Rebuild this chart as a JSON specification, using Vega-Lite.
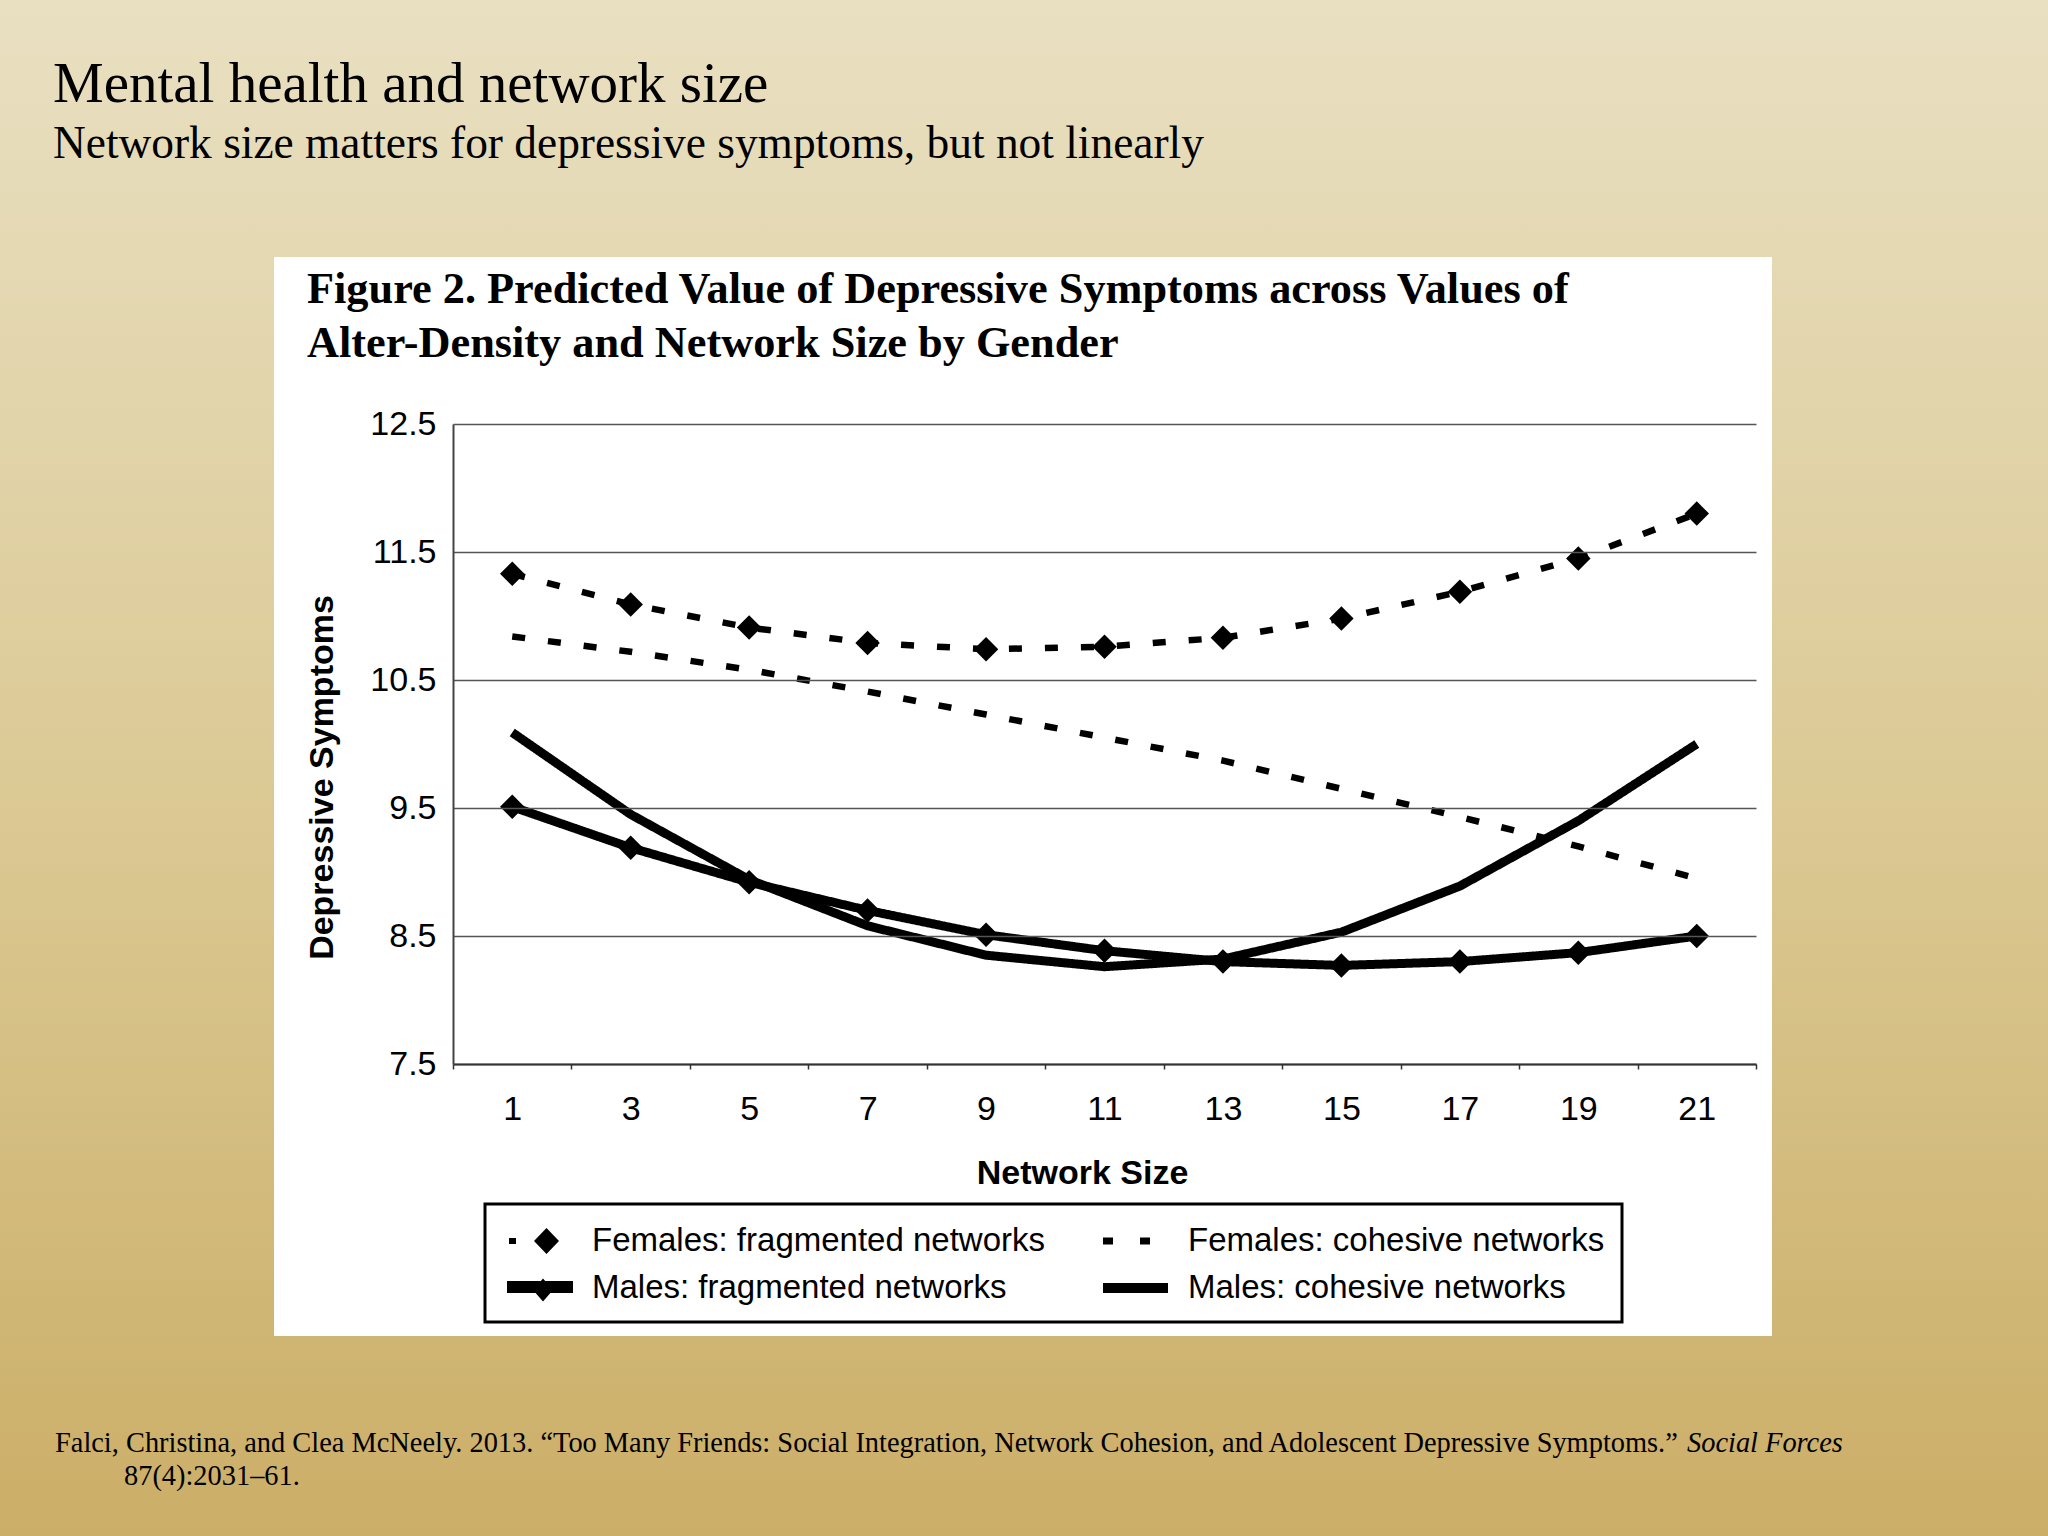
{
  "$schema": "https://vega.github.io/schema/vega-lite/v6.json",
  "autosize": {"type": "none"},
  "width": 1303,
  "height": 640,
  "padding": {"left": 453, "top": 424, "right": 292, "bottom": 472},
  "background": "#DCC894",
  "config": {"view": {"stroke": null}, "font": "Liberation Sans"},
  "datasets": {
    "predicted": [
      {"size": 1, "value": 11.33, "series": "Females: fragmented networks"},
      {"size": 3, "value": 11.09, "series": "Females: fragmented networks"},
      {"size": 5, "value": 10.91, "series": "Females: fragmented networks"},
      {"size": 7, "value": 10.79, "series": "Females: fragmented networks"},
      {"size": 9, "value": 10.74, "series": "Females: fragmented networks"},
      {"size": 11, "value": 10.76, "series": "Females: fragmented networks"},
      {"size": 13, "value": 10.83, "series": "Females: fragmented networks"},
      {"size": 15, "value": 10.98, "series": "Females: fragmented networks"},
      {"size": 17, "value": 11.19, "series": "Females: fragmented networks"},
      {"size": 19, "value": 11.45, "series": "Females: fragmented networks"},
      {"size": 21, "value": 11.8, "series": "Females: fragmented networks"},
      {"size": 1, "value": 10.84, "series": "Females: cohesive networks"},
      {"size": 3, "value": 10.72, "series": "Females: cohesive networks"},
      {"size": 5, "value": 10.58, "series": "Females: cohesive networks"},
      {"size": 7, "value": 10.41, "series": "Females: cohesive networks"},
      {"size": 9, "value": 10.23, "series": "Females: cohesive networks"},
      {"size": 11, "value": 10.05, "series": "Females: cohesive networks"},
      {"size": 13, "value": 9.87, "series": "Females: cohesive networks"},
      {"size": 15, "value": 9.65, "series": "Females: cohesive networks"},
      {"size": 17, "value": 9.43, "series": "Females: cohesive networks"},
      {"size": 19, "value": 9.2, "series": "Females: cohesive networks"},
      {"size": 21, "value": 8.95, "series": "Females: cohesive networks"},
      {"size": 1, "value": 9.51, "series": "Males: fragmented networks"},
      {"size": 3, "value": 9.19, "series": "Males: fragmented networks"},
      {"size": 5, "value": 8.92, "series": "Males: fragmented networks"},
      {"size": 7, "value": 8.7, "series": "Males: fragmented networks"},
      {"size": 9, "value": 8.51, "series": "Males: fragmented networks"},
      {"size": 11, "value": 8.385, "series": "Males: fragmented networks"},
      {"size": 13, "value": 8.3, "series": "Males: fragmented networks"},
      {"size": 15, "value": 8.27, "series": "Males: fragmented networks"},
      {"size": 17, "value": 8.3, "series": "Males: fragmented networks"},
      {"size": 19, "value": 8.37, "series": "Males: fragmented networks"},
      {"size": 21, "value": 8.5, "series": "Males: fragmented networks"},
      {"size": 1, "value": 10.09, "series": "Males: cohesive networks"},
      {"size": 3, "value": 9.45, "series": "Males: cohesive networks"},
      {"size": 5, "value": 8.94, "series": "Males: cohesive networks"},
      {"size": 7, "value": 8.58, "series": "Males: cohesive networks"},
      {"size": 9, "value": 8.35, "series": "Males: cohesive networks"},
      {"size": 11, "value": 8.26, "series": "Males: cohesive networks"},
      {"size": 13, "value": 8.32, "series": "Males: cohesive networks"},
      {"size": 15, "value": 8.53, "series": "Males: cohesive networks"},
      {"size": 17, "value": 8.89, "series": "Males: cohesive networks"},
      {"size": 19, "value": 9.4, "series": "Males: cohesive networks"},
      {"size": 21, "value": 10.0, "series": "Males: cohesive networks"}
    ]
  },
  "layer": [
    {
      "data": {"values": [{}]},
      "mark": {
        "type": "rect",
        "color": {
          "gradient": "linear", "x1": 0, "y1": 0, "x2": 0, "y2": 1,
          "stops": [
            {"offset": 0, "color": "#E9E0C2"},
            {"offset": 0.5, "color": "#DCCA96"},
            {"offset": 1, "color": "#CBAE67"}
          ]
        }
      },
      "encoding": {
        "x": {"datum": -7.66},
        "x2": {"datum": 26.94},
        "y": {"datum": 15.82},
        "y2": {"datum": 3.8}
      }
    },
    {
      "data": {"values": [{}]},
      "mark": {"type": "rect", "color": "white"},
      "encoding": {
        "x": {"datum": -3.022},
        "x2": {"datum": 22.27},
        "y": {"datum": 13.805},
        "y2": {"datum": 5.375}
      }
    },
    {
      "data": {"name": "predicted"},
      "mark": {"type": "line", "color": "black", "strokeCap": "butt", "strokeJoin": "round"},
      "encoding": {
        "x": {
          "field": "size", "type": "quantitative",
          "scale": {"domain": [0, 22], "nice": false, "zero": false},
          "axis": {
            "title": "Network Size",
            "titleFont": "Liberation Sans", "titleFontSize": 34, "titleFontWeight": "bold", "titleColor": "black",
            "titleX": 629, "titleY": 119, "titleBaseline": "alphabetic", "titleAlign": "center",
            "values": [0, 2, 4, 6, 8, 10, 12, 14, 16, 18, 20, 22],
            "labelExpr": "datum.value < 22 ? '' + (datum.value + 1) : ''",
            "labelOffset": 59.23, "labelFlush": false, "labelOverlap": false, "labelBound": false,
            "labelFont": "Liberation Sans", "labelFontSize": 34, "labelColor": "black", "labelPadding": 23,
            "tickSize": 5, "tickColor": "#333333", "tickWidth": 1.5,
            "domainColor": "#333333", "domainWidth": 2,
            "grid": false, "zindex": 1
          }
        },
        "y": {
          "field": "value", "type": "quantitative",
          "scale": {"domain": [7.5, 12.5], "nice": false, "zero": false},
          "axis": {
            "title": "Depressive Symptoms",
            "titleFont": "Liberation Sans", "titleFontSize": 34, "titleFontWeight": "bold", "titleColor": "black",
            "titleAngle": 270, "titleX": -121, "titleY": 353, "titleBaseline": "alphabetic", "titleAlign": "center",
            "values": [7.5, 8.5, 9.5, 10.5, 11.5, 12.5],
            "format": ".1f", "labelOverlap": false,
            "labelFont": "Liberation Sans", "labelFontSize": 34, "labelColor": "black", "labelPadding": 17,
            "ticks": false, "tickSize": 0,
            "grid": true, "gridColor": "#555555", "gridWidth": 1.5,
            "domainColor": "#444444", "domainWidth": 2,
            "zindex": 1
          }
        },
        "strokeDash": {
          "field": "series", "type": "nominal",
          "scale": {
            "domain": ["Females: fragmented networks", "Females: cohesive networks", "Males: fragmented networks", "Males: cohesive networks"],
            "range": [[13, 23], [13, 23], [1, 0], [1, 0]]
          },
          "legend": {
            "title": null, "orient": "none", "legendX": 32, "legendY": 780,
            "direction": "horizontal",
            "columns": 2, "columnPadding": 52, "rowPadding": 10, "padding": 17,
            "symbolSize": 1600, "labelFont": "Liberation Sans", "labelFontSize": 33, "labelColor": "black",
            "labelOffset": 50, "labelLimit": 1000,
            "symbolStrokeWidth": 0, "symbolFillColor": "black", "symbolStrokeColor": "black", "symbolOpacity": 1,
            "strokeColor": "black", "fillColor": "white",
            "encode": {
              "legend": {"strokeWidth": {"value": 3}, "update": {"strokeWidth": {"value": 3}}},
              "symbols": {
                "shape": {"value": {"expr": "datum.value === 'Females: fragmented networks' ? 'M-0.65,-0.15H-0.3V0.15H-0.65Z M0.6,0L1.225,-0.65L1.85,0L1.225,0.65Z' : datum.value === 'Females: cohesive networks' ? 'M-0.75,-0.175H-0.25V0.175H-0.75Z M1.1,-0.175H1.6V0.175H1.1Z' : datum.value === 'Males: fragmented networks' ? 'M-0.75,-0.35H2.55V0.25H-0.75Z M0.55,0.1L1.05,-0.475L1.55,0.1L1.05,0.675Z' : 'M-0.75,-0.25H2.5V0.25H-0.75Z'"}},
                "fill": {"value": "black"},
                "strokeWidth": {"value": 0},
                "update": {
                  "shape": {"signal": "datum.value === 'Females: fragmented networks' ? 'M-0.65,-0.15H-0.3V0.15H-0.65Z M0.6,0L1.225,-0.65L1.85,0L1.225,0.65Z' : datum.value === 'Females: cohesive networks' ? 'M-0.75,-0.175H-0.25V0.175H-0.75Z M1.1,-0.175H1.6V0.175H1.1Z' : datum.value === 'Males: fragmented networks' ? 'M-0.75,-0.35H2.55V0.25H-0.75Z M0.55,0.1L1.05,-0.475L1.55,0.1L1.05,0.675Z' : 'M-0.75,-0.25H2.5V0.25H-0.75Z'"},
                  "fill": {"value": "black"},
                  "strokeWidth": {"value": 0}
                }
              }
            }
          }
        },
        "strokeWidth": {
          "condition": {"test": "indexof(datum.series, 'Males') === 0", "value": 9},
          "value": 6.5
        }
      }
    },
    {
      "data": {"name": "predicted"},
      "transform": [{"filter": "indexof(datum.series, 'fragmented') >= 0"}],
      "mark": {"type": "point", "shape": "diamond", "filled": true, "size": 600, "color": "black", "opacity": 1},
      "encoding": {
        "x": {"field": "size", "type": "quantitative"},
        "y": {"field": "value", "type": "quantitative"}
      }
    },
    {
      "data": {"values": [{}]},
      "mark": {"type": "text", "text": "Mental health and network size", "font": "Liberation Serif", "fontSize": 57, "align": "left", "baseline": "alphabetic", "color": "black"},
      "encoding": {"x": {"datum": -6.754}, "y": {"datum": 15.016}}
    },
    {
      "data": {"values": [{}]},
      "mark": {"type": "text", "text": "Network size matters for depressive symptoms, but not linearly", "font": "Liberation Serif", "fontSize": 45.4, "align": "left", "baseline": "alphabetic", "color": "black"},
      "encoding": {"x": {"datum": -6.754}, "y": {"datum": 14.578}}
    },
    {
      "data": {"values": [{}]},
      "mark": {"type": "text", "text": ["Figure 2. Predicted Value of Depressive Symptoms across Values of", "Alter-Density and Network Size by Gender"], "lineHeight": 54, "font": "Liberation Serif", "fontWeight": "bold", "fontSize": 44.3, "align": "left", "baseline": "alphabetic", "color": "black"},
      "encoding": {"x": {"datum": -2.465}, "y": {"datum": 13.445}}
    },
    {
      "data": {"values": [{}]},
      "mark": {"type": "text", "text": "Falci, Christina, and Clea McNeely. 2013. “Too Many Friends: Social Integration, Network Cohesion, and Adolescent Depressive Symptoms.”", "font": "Liberation Serif", "fontSize": 28.4, "align": "left", "baseline": "alphabetic", "color": "black"},
      "encoding": {"x": {"datum": -6.72}, "y": {"datum": 4.469}}
    },
    {
      "data": {"values": [{}]},
      "mark": {"type": "text", "text": "Social Forces", "font": "Liberation Serif", "fontStyle": "italic", "fontSize": 28.4, "align": "left", "baseline": "alphabetic", "color": "black"},
      "encoding": {"x": {"datum": 20.835}, "y": {"datum": 4.469}}
    },
    {
      "data": {"values": [{}]},
      "mark": {"type": "text", "text": "87(4):2031–61.", "font": "Liberation Serif", "fontSize": 28.4, "align": "left", "baseline": "alphabetic", "color": "black"},
      "encoding": {"x": {"datum": -5.555}, "y": {"datum": 4.211}}
    }
  ]
}
